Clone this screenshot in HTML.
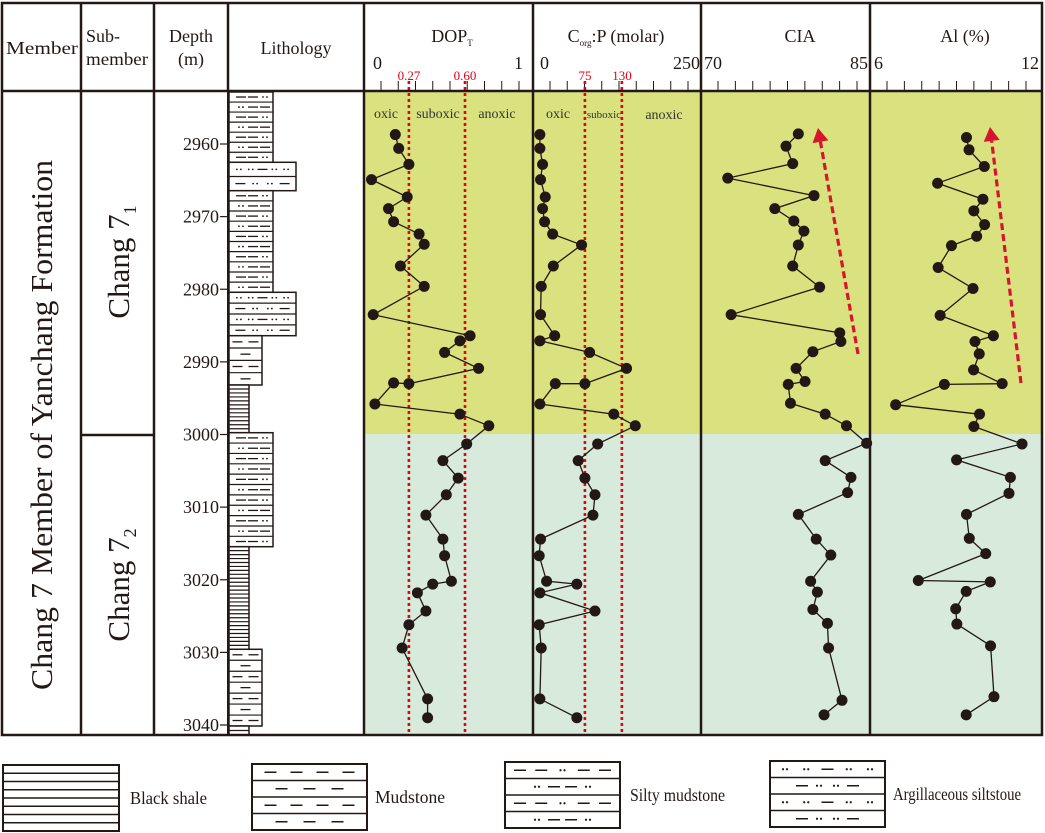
<!DOCTYPE html>
<html><head><meta charset="utf-8"><style>
html,body{margin:0;padding:0;background:#fff;}
svg{display:block;font-family:"Liberation Serif",serif;}
</style></head><body>
<svg id="chart" width="1045" height="833" viewBox="0 0 1045 833" xmlns="http://www.w3.org/2000/svg">
<g id="bg">
 <rect x="365" y="92" width="677" height="342" fill="#d9e27e"/>
 <rect x="365" y="434" width="677" height="301" fill="#d7eadb"/>
</g>
<g id="litho"></g>
<g id="depth"></g>
<g id="ticks"></g>
<g id="refl"></g>
<g id="series"></g>
<g id="frame" stroke="#231815" stroke-width="2.5" fill="none">
 <rect x="2" y="3" width="1040" height="732"/>
 <line x1="2" y1="91" x2="1042" y2="91"/>
 <line x1="81" y1="3" x2="81" y2="735"/>
 <line x1="154" y1="3" x2="154" y2="735"/>
 <line x1="228" y1="3" x2="228" y2="92"/>
 <line x1="364" y1="3" x2="364" y2="735"/>
 <line x1="533" y1="3" x2="533" y2="735"/>
 <line x1="701" y1="3" x2="701" y2="735"/>
 <line x1="870" y1="3" x2="870" y2="735"/>
 <line x1="81" y1="435" x2="154" y2="435"/>
</g>
<g font-size="18" fill="#231815">
 <text x="42" y="54" text-anchor="middle" textLength="72" lengthAdjust="spacingAndGlyphs">Member</text>
 <text x="86" y="42">Sub-</text>
 <text x="86" y="65" textLength="62" lengthAdjust="spacingAndGlyphs">member</text>
 <text x="191" y="42" text-anchor="middle">Depth</text>
 <text x="191" y="65" text-anchor="middle">(m)</text>
 <text x="296" y="54" text-anchor="middle">Lithology</text>
 <text x="452" y="42" text-anchor="middle">DOP<tspan font-size="9" dy="4">T</tspan></text>
 <text x="616" y="42" text-anchor="middle">C<tspan font-size="9" dy="4">org</tspan><tspan dy="-4">:P (molar)</tspan></text>
 <text x="800" y="42" text-anchor="middle">CIA</text>
 <text x="965" y="42" text-anchor="middle">Al (%)</text>
 <text x="373" y="69">0</text>
 <text x="523" y="69" text-anchor="end">1</text>
 <text x="540" y="69">0</text>
 <text x="700" y="69" text-anchor="end">250</text>
 <text x="704" y="69">70</text>
 <text x="868" y="69" text-anchor="end">85</text>
 <text x="874" y="69">6</text>
 <text x="1039" y="69" text-anchor="end">12</text>
 <g fill="#e60012" font-size="13">
  <text x="409" y="80" text-anchor="middle">0.27</text>
  <text x="465" y="80" text-anchor="middle">0.60</text>
  <text x="585" y="80" text-anchor="middle">75</text>
  <text x="622" y="80" text-anchor="middle">130</text>
 </g>
 <g font-size="14" fill="#333">
  <text x="386" y="118" text-anchor="middle">oxic</text>
  <text x="438" y="118" text-anchor="middle">suboxic</text>
  <text x="497" y="118" text-anchor="middle">anoxic</text>
  <text x="558" y="118" text-anchor="middle">oxic</text>
  <text x="604" y="118" text-anchor="middle" font-size="11">suboxic</text>
  <text x="664" y="119" text-anchor="middle">anoxic</text>
 </g>
 <text transform="translate(52,425) rotate(-90)" font-size="31" text-anchor="middle" textLength="530" lengthAdjust="spacingAndGlyphs">Chang 7 Member of Yanchang Formation</text>
 <text transform="translate(129,262) rotate(-90)" font-size="31" text-anchor="middle">Chang 7<tspan font-size="18" dy="7">1</tspan></text>
 <text transform="translate(129,585) rotate(-90)" font-size="31" text-anchor="middle">Chang 7<tspan font-size="18" dy="7">2</tspan></text>
</g>
<g id="legend"></g>
</svg>
<script>
const dopDepth=[2958.7,2960.6,2962.8,2964.9,2967.3,2968.9,2970.7,2972.4,2973.8,2976.8,2979.6,2983.5,2986.4,2987.1,2988.7,2990.9,2993.0,2992.9,2995.8,2997.2,2998.8,3001.3,3003.6,3006.0,3008.3,3011.1,3014.4,3016.7,3020.2,3020.6,3021.8,3024.3,3026.2,3029.4,3036.4,3039.0];
const dopValues=[0.19,0.21,0.27,0.05,0.26,0.15,0.18,0.33,0.36,0.22,0.36,0.06,0.63,0.57,0.48,0.68,0.27,0.18,0.07,0.57,0.74,0.61,0.47,0.56,0.49,0.37,0.47,0.48,0.52,0.41,0.32,0.37,0.27,0.23,0.38,0.38];
const corgDepth=[2958.7,2960.6,2962.8,2964.9,2967.3,2968.9,2970.7,2972.4,2973.9,2976.8,2979.6,2983.5,2986.4,2987.1,2988.7,2990.9,2993.0,2993.0,2995.8,2997.2,2998.8,3001.3,3003.6,3006.0,3008.3,3011.1,3014.4,3016.7,3020.2,3020.6,3021.8,3024.3,3026.2,3029.4,3036.4,3039.0];
const corgValues=[8,8,12,9,16,12,15,27,70,28,10,9,30,8,82,137,75,31,8,118,150,94,65,75,90,87,9,7,18,63,8,90,7,10,8,63];
const ciaDepth=[2958.6,2960.3,2962.7,2964.7,2967.1,2968.9,2970.6,2972.0,2973.9,2976.8,2979.7,2983.5,2986.0,2987.2,2988.6,2990.9,2992.7,2993.1,2995.7,2997.2,2998.8,3001.2,3003.6,3005.9,3008.0,3011.0,3014.4,3016.6,3020.2,3021.7,3024.1,3026.0,3029.4,3036.6,3038.6];
const ciaValues=[78.6,77.5,78.1,72.3,80.0,76.5,78.2,79.1,78.6,78.1,80.5,72.6,82.3,82.4,79.9,78.4,79.2,77.7,77.9,81.0,82.9,84.7,81.0,83.3,83.0,78.6,80.2,81.5,79.7,80.3,79.9,81.2,81.3,82.5,80.9];
const alDepth=[2959.1,2960.8,2963.1,2965.4,2967.6,2969.2,2971.1,2972.7,2974.0,2977.0,2979.9,2983.6,2986.4,2987.2,2988.9,2991.1,2993.0,2993.1,2995.9,2997.2,2998.9,3001.3,3003.5,3005.9,3008.1,3011.0,3014.3,3016.4,3020.1,3020.3,3021.6,3024.0,3026.1,3029.1,3036.1,3038.6];
const alValues=[9.37,9.46,10.00,8.35,9.95,9.63,10.01,9.73,8.84,8.37,9.60,8.44,10.32,9.67,9.82,9.62,10.63,8.59,6.87,9.83,9.63,11.33,9.02,10.92,10.87,9.37,9.47,10.05,7.67,10.21,9.36,8.99,9.03,10.22,10.34,9.36];
const depthTicks=[2960,2970,2980,2990,3000,3010,3020,3030,3040];
const dopThresholds=[0.27,0.60];
const corgThresholds=[75,130];

const NS="http://www.w3.org/2000/svg";
function mk(tag,attrs,parent){const e=document.createElementNS(NS,tag);for(const k in attrs)e.setAttribute(k,attrs[k]);parent.appendChild(e);return e;}
const yScale=d=>144+(d-2960)*7.2625;
const xDop=v=>363+v*170;
const xCorg=v=>534.5+v*0.672;
const xCia=v=>702+(v-70)/15*168;
const xAl=v=>871+(v-6)/6*170;

const dg=document.getElementById('depth');
depthTicks.forEach(d=>{
  const y=yScale(d);
  const l=mk('line',{x1:220,y1:y,x2:228,y2:y,stroke:'#231815','stroke-width':1.2},dg);
  
  
  const t=mk('text',{x:219,y:y+6,'text-anchor':'end','font-size':18,fill:'#231815'},dg);
  t.textContent=d;
  
  
});
mk('line',{x1:228,y1:92,x2:228,y2:735,stroke:'#231815','stroke-width':2},dg);

const lg=document.getElementById('litho');
function dots(g,cx,cy){mk('circle',{cx:cx-2,cy:cy,r:0.9,fill:'#231815'},g);mk('circle',{cx:cx+2,cy:cy,r:0.9,fill:'#231815'},g);}
function dash(g,cx,cy){mk('line',{x1:cx-5,y1:cy,x2:cx+5,y2:cy,stroke:'#231815','stroke-width':1.3},g);}
function silty(g,x,y,w,h,i){
  const cy=y+h/2;
  const pat=(i%2==0)?['d','d','o']:['o','d','d'];
  const step=(w-8)/3;
  pat.forEach((p,k)=>{const cx=x+6+step*k+step/2;if(p=='d')dash(g,cx,cy);else dots(g,cx,cy);});
}
function argil(g,x,y,w,h,i){
  const cy=y+h/2;
  const pat=(i%2==0)?['o','o','d','o','o']:['d','o','o','d'];
  const step=(w-8)/pat.length;
  pat.forEach((p,k)=>{const cx=x+4+step*k+step/2;if(p=='d')dash(g,cx,cy);else dots(g,cx,cy);});
}
function mud(g,x,y,w,h,i){
  const cy=y+h/2;
  const n=(i%2==0)?2:1;
  for(let k=0;k<n;k++){const cx=x+w/2+(n==2?(k?8:-8):0);dash(g,cx,cy);}
}
function shale(g,x,y,w,h,i){}
function unit(name,fn,x0,x1,y0,y1,rows){
  const g=mk('g',{},lg);
  
  
  mk('rect',{x:x0,y:y0,width:x1-x0,height:y1-y0,fill:'#fff',stroke:'#231815','stroke-width':1.5},g);
  const h=(y1-y0)/rows;
  for(let i=0;i<rows;i++){
    if(i>0) mk('line',{x1:x0,y1:y0+h*i,x2:x1,y2:y0+h*i,stroke:'#231815','stroke-width':1.2},g);
    fn(g,x0,y0+h*i,x1-x0,h,i);
  }
}
unit('silty-mudstone-unit-1',silty,229,273,92,162.3,7);
unit('argillaceous-siltstone-unit-1',argil,229,296,162.3,190.7,2);
unit('silty-mudstone-unit-2',silty,229,273,190.7,292.3,10);
unit('argillaceous-siltstone-unit-2',argil,229,296,292.3,335.7,4);
unit('mudstone-unit-1',mud,229,262,335.7,385,4);
unit('black-shale-unit-1',shale,229,249,385,432.7,12);
unit('silty-mudstone-unit-3',silty,229,273,432.7,546.7,11);
unit('black-shale-unit-2',shale,229,249,546.7,649.3,26);
unit('mudstone-unit-2',mud,229,262,649.3,726,7);
unit('black-shale-unit-3',shale,229,249,726,735,2);

const tg=document.getElementById('ticks');
[[381,519],[550,688],[718,857],[887,1026]].forEach(([a,b])=>{
  for(let i=0;i<9;i++){const x=a+(b-a)*i/8;mk('line',{x1:x,y1:81,x2:x,y2:91,stroke:'#231815','stroke-width':1},tg);}
});

const rg=document.getElementById('refl');
dopThresholds.forEach(v=>{const x=xDop(v);const l=mk('line',{x1:x,y1:81,x2:x,y2:735,stroke:'#e60012','stroke-width':2.6,'stroke-dasharray':'3 3'},rg);
  
  });
corgThresholds.forEach(v=>{const x=xCorg(v);const l=mk('line',{x1:x,y1:81,x2:x,y2:735,stroke:'#e60012','stroke-width':2.6,'stroke-dasharray':'3 3'},rg);
  
  });

const sg=document.getElementById('series');
function series(name,depths,vals,xf){
  const g=mk('g',{},sg);
  
  
  const pts=vals.map((v,i)=>xf(v).toFixed(1)+','+yScale(depths[i]).toFixed(1)).join(' ');
  mk('polyline',{points:pts,fill:'none',stroke:'#231815','stroke-width':1.3},g);
  vals.forEach((v,i)=>{
    const c=mk('circle',{cx:xf(v),cy:yScale(depths[i]),r:5.5,fill:'#231815'},g);
    
    
  });
}
series('dopt-series',dopDepth,dopValues,xDop);
series('corgp-series',corgDepth,corgValues,xCorg);
series('cia-series',ciaDepth,ciaValues,xCia);
series('al-series',alDepth,alValues,xAl);

function arrow(name,x1,y1,x2,y2){
  const g=mk('g',{},sg);
  
  
  const dx=x2-x1,dy=y2-y1,L=Math.hypot(dx,dy),ux=dx/L,uy=dy/L;
  const bx=x2-ux*14,by=y2-uy*14;
  mk('line',{x1:x1,y1:y1,x2:bx,y2:by,stroke:'#d7142d','stroke-width':3.2,'stroke-dasharray':'7 4'},g);
  mk('polygon',{points:`${x2},${y2} ${bx-uy*8},${by+ux*8} ${bx+uy*8},${by-ux*8}`,fill:'#d7142d'},g);
}
arrow('cia-trend-arrow',858,354,818,128);
arrow('al-trend-arrow',1021,383,990,127);

const leg=document.getElementById('legend');
function legBox(name,label,x,y,w,h,rows,fn,lx,tl){
  const g=mk('g',{},leg);
  
  
  mk('rect',{x:x,y:y,width:w,height:h,fill:'#fff',stroke:'#231815','stroke-width':2},g);
  const rh=h/rows;
  for(let i=1;i<rows;i++) mk('line',{x1:x,y1:y+rh*i,x2:x+w,y2:y+rh*i,stroke:'#231815','stroke-width':1.5},g);
  for(let i=0;i<rows;i++) fn(g,x,y+rh*i,w,rh,i);
  const t=mk('text',{x:lx,y:y+h/2+6,'font-size':18,fill:'#231815',textLength:tl,lengthAdjust:'spacingAndGlyphs'},g);
  t.textContent=label;
}
function legMud(g,x,y,w,h,i){const cy=y+h/2;const n=(i%2==0)?4:3;const sp=(i%2==0)?26:28;const st=x+w/2-sp*(n-1)/2;for(let k=0;k<n;k++){const cx=st+sp*k;mk('line',{x1:cx-6,y1:cy,x2:cx+6,y2:cy,stroke:'#231815','stroke-width':1.5},g);}}
function legPat(pat){return function(g,x,y,w,h,i){const p=pat[i%pat.length];const cy=y+h/2;const sp=(w-30)/(p.length-1);p.forEach((c,k)=>{const cx=x+15+sp*k;if(c=='d')mk('line',{x1:cx-6,y1:cy,x2:cx+6,y2:cy,stroke:'#231815','stroke-width':1.5},g);else if(c=='o'){mk('circle',{cx:cx-2,cy:cy,r:1.1,fill:'#231815'},g);mk('circle',{cx:cx+2,cy:cy,r:1.1,fill:'#231815'},g);}});};}
legBox('legend-black-shale','Black shale',3,765,116,66,8,function(){},130,77);
legBox('legend-mudstone','Mudstone',252,764,115,66,4,legMud,375,70);
legBox('legend-silty-mudstone','Silty mudstone',505,762,115,66,4,legPat([['d','d','o','d','d'],[' ','o','d','d','o',' '],['d','d','o','d','d'],[' ','o','d','d','o',' ']]),630,95);
legBox('legend-argillaceous-siltstone','Argillaceous siltstoue',770,761,115,66,4,legPat([['o','o','d','o','o'],[' ','d','o','o','d',' '],['o','o','d','o','o'],[' ','d','o','o','d',' ']]),893,128);
</script>
</body></html>
